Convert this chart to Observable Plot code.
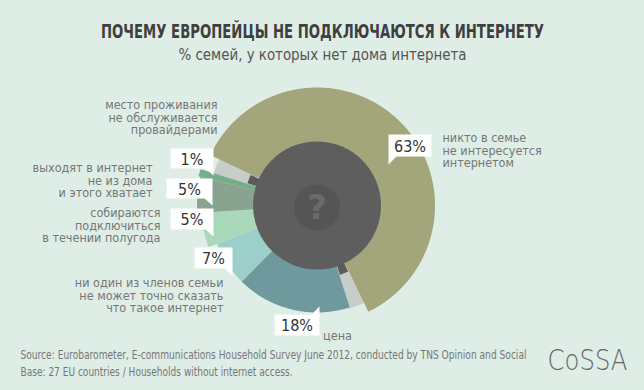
<!DOCTYPE html>
<html><head><meta charset="utf-8">
<script src="https://cdn.jsdelivr.net/npm/d3@7"></script>
<script src="https://cdn.jsdelivr.net/npm/@observablehq/plot@0.6"></script>
<style>
html,body{margin:0;padding:0;background:#deede5;}
#chart{width:644px;height:390px;overflow:hidden;}
</style></head>
<body><div id="chart"></div>
<script>
// ---- data (clockwise from the olive slice) ----
const categories = [
  "никто в семье\nне интересуется\nинтернетом",
  "цена",
  "ни один из членов семьи\nне может точно сказать\nчто такое интернет",
  "собираются\nподключиться\nв течении полугода",
  "выходят в интернет\nне из дома\nи этого хватает",
  "место проживания\nне обслуживается\nпровайдерами"
];
const values = [63, 18, 7, 5, 5, 1];
const valueLabels = ["63%", "18%", "7%", "5%", "5%", "1%"];
const title = "ПОЧЕМУ ЕВРОПЕЙЦЫ НЕ ПОДКЛЮЧАЮТСЯ К ИНТЕРНЕТУ";
const subtitle = "% семей, у которых нет дома интернета";
const sourceLines = [
  "Source: Eurobarometer, E-communications Household Survey June 2012, conducted by TNS Opinion and Social",
  "Base: 27 EU countries / Households without internet access."
];
const logo = "CoSSA";

// ---- styles / layout ----
const colors = ["#a3a67a", "#6f9a9d", "#9dcfca", "#a9d8ba", "#88a491", "#73ad89"];
const radii = [118, 107, 107, 116, 120, 122];
const boxes = [ // x0, y0, w, h, tail
  {x0:388, y0:134, w:43, h:22, tail:"bl"},
  {x0:274, y0:314, w:45, h:21, tail:"tr"},
  {x0:194, y0:247, w:38, h:21, tail:"br"},
  {x0:170, y0:208, w:43, h:21, tail:"br"},
  {x0:166, y0:178, w:46, h:20, tail:"br"},
  {x0:170, y0:148, w:43, h:20, tail:"br"}
];
const labelPos = [
  {x:442, y:150, anchor:"start"},
  {x:337, y:335, anchor:"middle"},
  {x:223, y:295, anchor:"end"},
  {x:160, y:225, anchor:"end"},
  {x:152, y:180, anchor:"end"},
  {x:217, y:117, anchor:"end"}
];
const W = 644, H = 390;
const cx = 316.5, cy = 205, rCenter = 64;
const gapDeg = 8, startDeg = 295.3;
const FONT = "'DejaVu Sans Condensed','DejaVu Sans',sans-serif";
const fitWidths = new Map([[title, 443], [subtitle, 288], [sourceLines[0], 506], [sourceLines[1], 272], [logo, 80]]);

// ---- geometry from values ----
const degPer = (360 - 2 * gapDeg) / d3.sum(values);
let a = startDeg;
const arcs = [], gaps = [];
values.forEach((v, i) => {
  const a0 = a, a1 = a + v * degPer;
  arcs.push({i, a0, a1});
  a = a1;
  if (i === 0) { gaps.push({a0: a, a1: a + gapDeg}); a += gapDeg; }
});
gaps.push({a0: a, a1: a + gapDeg});

function wedge(a0, a1, r) {
  const pts = [{x: cx, y: cy}];
  const n = Math.max(2, Math.ceil((a1 - a0) / 0.5));
  for (let k = 0; k <= n; k++) {
    const t = (a0 + (a1 - a0) * k / n) * Math.PI / 180;
    pts.push({x: cx + r * Math.sin(t), y: cy - r * Math.cos(t)});
  }
  return pts;
}
function boxPoly(b) {
  const {x0, y0, w, h, tail} = b, x1 = x0 + w, y1 = y0 + h;
  if (tail === "bl") return [{x:x0,y:y0},{x:x1,y:y0},{x:x1,y:y1},{x:x0+8,y:y1},{x:x0,y:y1+8},{x:x0,y:y0}];
  if (tail === "tr") return [{x:x0,y:y0},{x:x1-8,y:y0},{x:x1,y:y0-8},{x:x1,y:y1},{x:x0,y:y1},{x:x0,y:y0}];
  return [{x:x0,y:y0},{x:x1,y:y0},{x:x1,y:y1+7},{x:x1-8,y:y1},{x:x0,y:y1},{x:x0,y:y0}];
}

const marks = [];
gaps.forEach(g => marks.push(Plot.line(wedge(g.a0 - 1, g.a1 + 1, 108), {x:"x", y:"y", fill:"#c7cec9", stroke:"none"})));
arcs.forEach(s => marks.push(Plot.line(wedge(s.a0, s.a1, radii[s.i]), {x:"x", y:"y", fill:colors[s.i], stroke:"none"})));
gaps.forEach(g => {
  const m = (g.a0 + g.a1) / 2;
  marks.push(Plot.line(wedge(m - 3.5, m + 3.5, 73), {x:"x", y:"y", fill:"#5b5b5b", stroke:"none"}));
});
marks.push(Plot.dot([{x:cx, y:cy}], {x:"x", y:"y", r:rCenter, fill:"#5e5e5e", stroke:"none"}));
marks.push(Plot.dot([{x:cx, y:cy + 2}], {x:"x", y:"y", r:23, fill:"#555555", stroke:"none"}));
marks.push(Plot.text(["?"], {x:cx, y:cy + 3, fontSize:34, fontWeight:"bold", fill:"#6a6a6a", fontFamily:"'DejaVu Sans',sans-serif"}));

boxes.forEach(b => marks.push(Plot.line(boxPoly(b), {x:"x", y:"y", fill:"#ffffff", stroke:"none"})));
marks.push(Plot.text(valueLabels.map((t, i) => ({t, x: boxes[i].x0 + boxes[i].w / 2, y: boxes[i].y0 + boxes[i].h / 2 + 1})),
  {x:"x", y:"y", text:"t", fontSize:16, fill:"#333", fontFamily:FONT}));

categories.forEach((c, i) => marks.push(Plot.text([c], {x:labelPos[i].x, y:labelPos[i].y, text:d=>d, textAnchor:labelPos[i].anchor,
  fontSize:12.5, lineHeight:1.0, fill:"#777", fontFamily:FONT})));

marks.push(Plot.text([title], {x:322, y:31, text:d=>d, fontSize:19, fontWeight:"bold", fill:"#3f3f3f", fontFamily:FONT}));
marks.push(Plot.text([subtitle], {x:322, y:54, text:d=>d, fontSize:16, fill:"#555", fontFamily:FONT}));
marks.push(Plot.text(sourceLines, {x:20, y:(d,i)=>355 + i * 17, text:d=>d, textAnchor:"start", fontSize:12, fill:"#777", fontFamily:FONT}));
marks.push(Plot.text([logo], {x:587, y:361, text:d=>d, fontSize:28, fontWeight:200, fill:"#666", fontFamily:"'DejaVu Sans','Lato',sans-serif"}));

const chart = Plot.plot({
  width: W, height: H, margin: 0,
  x: {domain: [0, W], range: [0, W], axis: null},
  y: {domain: [0, H], range: [0, H], axis: null},
  style: {background: "transparent", overflow: "visible"},
  marks
});
document.getElementById("chart").appendChild(chart);
// compress single-line texts horizontally to match the narrow typeface of the original
chart.querySelectorAll("text").forEach(t => {
  const w = fitWidths.get(t.textContent);
  if (w) { t.setAttribute("textLength", w); t.setAttribute("lengthAdjust", "spacingAndGlyphs"); }
});
</script>
</body></html>
